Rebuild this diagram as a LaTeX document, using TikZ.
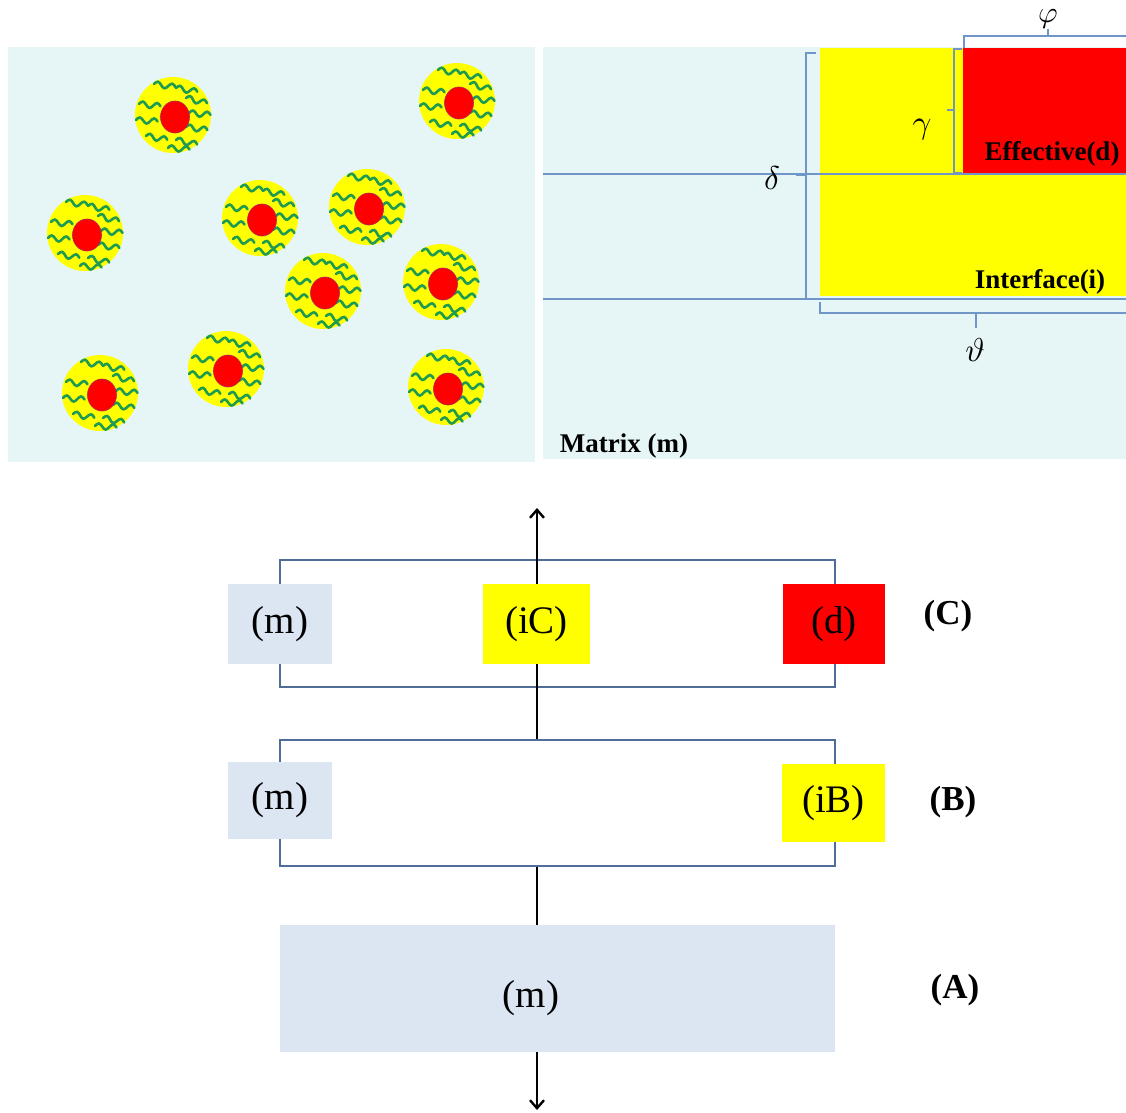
\documentclass[tikz,border=0pt]{standalone}
\usepackage{fontspec}
\setmainfont{Liberation Serif}
\usetikzlibrary{arrows.meta}

\definecolor{panel}{RGB}{230,246,246}
\definecolor{pyellow}{RGB}{255,255,0}
\definecolor{pred}{RGB}{255,0,0}
\definecolor{wiggreen}{RGB}{30,155,80}
\definecolor{brace}{RGB}{112,150,200}
\definecolor{frame}{RGB}{79,109,150}
\definecolor{mfill}{RGB}{220,230,242}

\newcommand\wig[3]{\draw[wig,shift={(#1,#2)},rotate=#3] (0,0) sin ++(3.6,-2.8) cos ++(3.6,2.8) sin ++(3.6,2.8) cos ++(3.6,-2.8) sin ++(3.6,-2.8) cos ++(3.6,2.8);}

\tikzset{
  wig/.style={draw=wiggreen,line width=2.6pt,line cap=round},
  bracket/.style={draw=brace,line width=1.3pt},
  layer/.style={draw=frame,line width=2.2pt,minimum width=555pt,inner sep=0pt},
  phase/.style={inner sep=0pt,font=\fontsize{39}{41}\selectfont},
  tag/.style={font=\fontsize{35}{37}\selectfont\bfseries},
  lbl/.style={font=\fontsize{27}{29}\selectfont\bfseries,inner sep=0pt},
  greek/.style={inner sep=0pt},
  axis/.style={draw=black,line width=2pt},
  tip/.style={-{Straight Barb[length=8pt,width=14pt,line width=2.4pt]}},
  pics/nanop/.style={code={
    \fill[pyellow] (0,0) circle (38);
    \wig{-19}{-31}{-8}
    \wig{3}{-27}{-10}
    \wig{13}{-17}{-14}
    \wig{-34}{-11}{-6}
    \wig{16}{-2}{-5}
    \wig{-37}{5}{-4}
    \wig{13}{12}{-8}
    \wig{-27}{21}{-10}
    \wig{3}{25}{-12}
    \wig{-5}{33}{-4}
    \fill[pred,draw={rgb,255:red,170;green,40;blue,90},line width=0.6pt] (2,2) ellipse [x radius=14.5,y radius=16];
  }}
}

\begin{document}
\begin{tikzpicture}[x=1pt,y=-1pt]
\useasboundingbox (0,0) rectangle (1126,1112);

% ---------- particle dispersion ----------
\fill[panel] (8,47) rectangle (535,462);
\foreach \px/\py in {173/115,457/101,85/233,260/218,367/207,323/291,441/282,100/393,226/369,446/387}
  \pic at (\px,\py) {nanop};

% ---------- unit cell ----------
\fill[panel] (543,47) rectangle (1126,459);
\fill[pyellow] (820,48) rectangle (1126,296);
\fill[pred] (963,48) rectangle (1126,173);

\draw[bracket] (543,174) -- (1126,174);
\draw[bracket] (543,299) -- (1126,299);

% delta
\draw[bracket] (816,53) -- (806,53) -- (806,299);
\draw[bracket] (806,175) -- (796,175);
% gamma
\draw[bracket] (962,49) -- (954,49) -- (954,173) -- (962,173);
\draw[bracket] (954,110) -- (947,110);
% phi
\draw[bracket] (964,48) -- (964,36) -- (1126,36);
\draw[bracket] (1048,36) -- (1048,29);
% theta
\draw[bracket] (820,302) -- (820,313) -- (1126,313);
\draw[bracket] (976,313) -- (976,328);

\node[greek] (delta) at (772,178) {\scalebox{3.3}{$\delta$}};
\node[greek] (gamma) at (922,130) {\scalebox{3.3}{$\gamma$}};
\node[greek] (phi)   at (1048,19) {\scalebox{3}{$\varphi$}};
\node[greek] (theta) at (975,350) {\scalebox{3.3}{$\vartheta$}};

\node[lbl] (eff)   at (1052,154) {Effective(d)};
\node[lbl] (inter) at (1040,282) {Interface(i)};
\node[lbl] (matr)  at (624,446) {Matrix (m)};

% ---------- series / parallel models ----------
\coordinate (top) at (537,508);
\coordinate (bot) at (537,1110);

\node[layer,minimum height=127pt] (boxC) at (557.5,623.5) {};
\node[layer,minimum height=126pt] (boxB) at (557.5,803) {};
\node[fill=mfill,minimum width=555pt,minimum height=127pt,inner sep=0pt] (boxA) at (557.5,988.5) {};

\draw[axis,tip] (boxB.north -| top) -- (top);
\draw[axis] (boxA.north -| top) -- (boxB.south -| top);
\draw[axis,tip] (boxA.south -| top) -- (bot);

\node[phase,fill=mfill,minimum width=104pt,minimum height=80pt] (mC) at (280,624) {(m)};
\node[phase,fill=pyellow,minimum width=107pt,minimum height=80pt] (iC) at (536.5,624) {(iC)};
\node[phase,fill=pred,minimum width=102pt,minimum height=80pt] (dC) at (834,624) {(d)};

\node[phase,fill=mfill,minimum width=104pt,minimum height=77pt] (mB) at (280,800.5) {(m)};
\node[phase,fill=pyellow,minimum width=103pt,minimum height=78pt] (iB) at (833.5,803) {(iB)};

\node[phase] (mA) at (531,998) {(m)};

\node[tag] (tC) at (948,616) {(C)};
\node[tag] (tB) at (953,802) {(B)};
\node[tag] (tA) at (955,990) {(A)};
\end{tikzpicture}
\end{document}
